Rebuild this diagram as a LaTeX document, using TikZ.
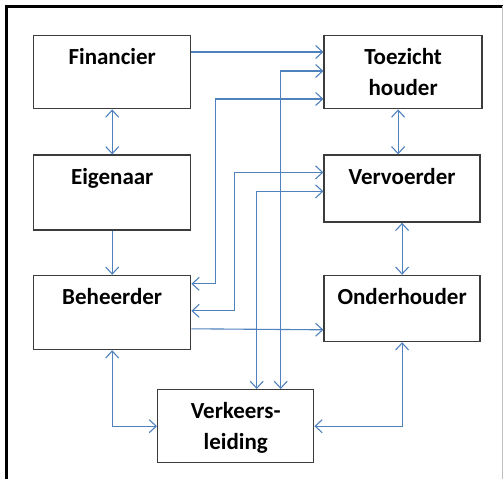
\documentclass[tikz,border=0pt]{standalone}
\usepackage{fontspec}
\setmainfont{Carlito}
\usetikzlibrary{
  arrows.meta,
  positioning
}
\definecolor{linkblue}{RGB}{79,129,189}
\definecolor{boxline}{RGB}{60,60,60}
\tikzset{
  actor/.style={draw=boxline, line width=1.4pt, align=center, inner xsep=0pt, inner ysep=0pt,
    minimum width=157pt, text height=29pt, font=\fontsize{23}{31}\selectfont\bfseries},
  twolines/.style={text height=60pt, text depth=13pt},
  link/.style={draw=linkblue, line width=1.1pt, -{Straight Barb[length=7pt,width=13pt]}},
  both/.style={link, {Straight Barb[length=7pt,width=13pt]}-{Straight Barb[length=7pt,width=13pt]}},
}

\begin{document}
\begin{tikzpicture}[x=1pt, y=-1pt]
      \useasboundingbox (0,0) rectangle (503,479);
      % frame
      \draw[line width=3pt] (6.5,479) -- (6.5,6) -- (503,6);
      \draw[black!25, line width=0.8pt] (502,6) -- (502,479);

      \node (fin) [actor, anchor=north west, text depth=44pt] at (33,35) {Financier};
      \node (eig) [actor, below=45pt of fin, text depth=46pt] {Eigenaar};
      \node (beh) [actor, below=44pt of eig, text depth=45pt] {Beheerder};
      \node (toe) [actor, twolines, right=132pt of fin, minimum width=158pt] {
        Toezicht \\
        houder
      };
      \node (ver) [actor, below=45pt of toe.south west, anchor=north west, minimum width=156pt, text depth=38pt] {Vervoerder};
      \node (ond) [actor, below=52pt of ver, minimum width=156pt, text depth=37pt] {Onderhouder};
      \node (vkl) [actor, twolines, anchor=north west, minimum width=156pt] at (157,389) {
        Verkeers- \\
        leiding
      };

      \draw[link] ([yshift=-17pt]fin.north east) -- ([yshift=-17pt]toe.north west);
      \draw[both] (fin) -- (eig);
      \draw[link] (eig) -- (beh);
      \draw[both] ([xshift=-5pt]toe.south) -- ([xshift=-4pt]ver.north);
      \draw[both] (ver) -- (ond);
      \draw[both] ([xshift=45pt]vkl.north) |- ([yshift=-36pt]toe.north west);
      \draw[both] ([yshift=-9pt]beh.north east) -- ++(24,0) |- ([yshift=-64pt]toe.north west);
      \draw[both] ([yshift=-36pt]beh.north east) -- ++(43,0) |- ([yshift=-18pt]ver.north west);
      \draw[both] ([yshift=-37pt]ver.north west) -| ([xshift=21pt]vkl.north);
      \draw[link] ([yshift=-54pt]beh.north east) -- ([yshift=-55pt]ond.north west);
      \draw[both] (beh.south) |- (vkl.west);
      \draw[both] (ond.south) |- (vkl.east);
    \end{tikzpicture}
\end{document}
